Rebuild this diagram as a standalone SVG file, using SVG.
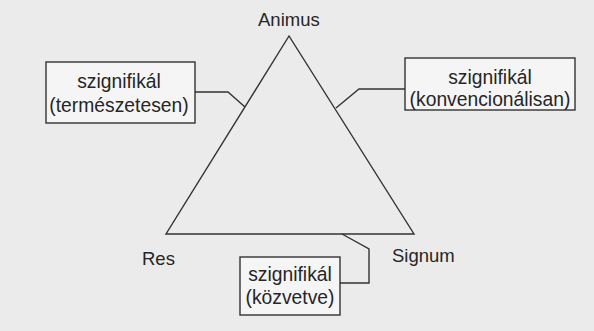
<svg xmlns="http://www.w3.org/2000/svg" width="594" height="331" viewBox="0 0 594 331">
<style>
.bg{fill:#ebebeb}
.box{fill:#f5f5f5;stroke:#333;stroke-width:1.4}
.ln{fill:none;stroke:#333;stroke-width:1.4;stroke-linejoin:miter}
text{font-family:"Liberation Sans",Arial,sans-serif;fill:#262626}
.lbl{font-size:18.5px}
.bt{font-size:19.3px;text-anchor:middle}
</style>
<rect class="bg" x="0" y="0" width="594" height="331"/>
<g id="connectors">
<polyline class="ln" points="195,92 228,92 245,107"/>
<polyline class="ln" points="405,89 359,89 336,108"/>
<polyline class="ln" points="342,234 369,249 369,283 340,283"/>
</g>
<g id="triangle">
<polygon class="ln" points="289,36 166,234 414,234"/>
</g>
<g id="animus"><text class="lbl" x="258" y="26">Animus</text></g>
<g id="res"><text class="lbl" x="142" y="265">Res</text></g>
<g id="signum"><text class="lbl" x="392" y="262">Signum</text></g>
<g id="box-termeszetesen">
<rect class="box" x="46" y="62" width="149" height="61"/>
<text class="bt" x="119" y="88">szignifikál</text>
<text class="bt" x="119" y="112">(természetesen)</text>
</g>
<g id="box-konvencionalisan">
<rect class="box" x="405" y="58" width="170" height="52"/>
<text class="bt" x="490" y="84">szignifikál</text>
<text class="bt" x="490" y="106">(konvencionálisan)</text>
</g>
<g id="box-kozvetve">
<rect class="box" x="240" y="257" width="100" height="58"/>
<text class="bt" x="290" y="281">szignifikál</text>
<text class="bt" x="290" y="304">(közvetve)</text>
</g>
</svg>
